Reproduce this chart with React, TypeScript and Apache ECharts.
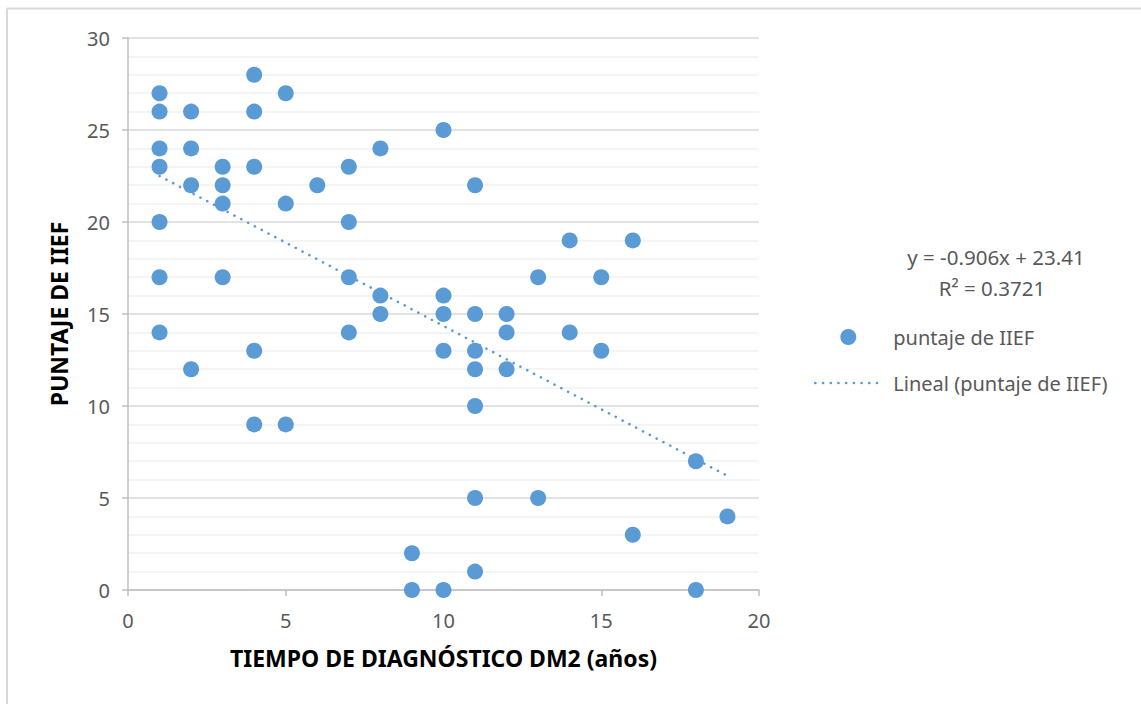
import React, { useEffect, useRef } from "react";
import * as echarts from "echarts";

const seriesName = "puntaje de IIEF";
const trendName = "Lineal (puntaje de IIEF)";
const xTitle = "TIEMPO DE DIAGNÓSTICO DM2 (años)";
const yTitle = "PUNTAJE DE IIEF";
const equationLines = ["y = -0.906x + 23.41", "R² = 0.3721"];

const xValues = [
  1, 1, 1, 1, 1, 1, 1,
  2, 2, 2, 2,
  3, 3, 3, 3,
  4, 4, 4, 4, 4,
  5, 5, 5,
  6,
  7, 7, 7, 7,
  8, 8, 8,
  9, 9,
  10, 10, 10, 10, 10,
  11, 11, 11, 11, 11, 11, 11,
  12, 12, 12,
  13, 13,
  14, 14,
  15, 15,
  16, 16,
  18, 18,
  19,
];
const yValues = [
  27, 26, 24, 23, 20, 17, 14,
  26, 24, 22, 12,
  23, 22, 21, 17,
  28, 26, 23, 13, 9,
  27, 21, 9,
  22,
  23, 20, 17, 14,
  24, 16, 15,
  2, 0,
  25, 16, 15, 13, 0,
  22, 15, 13, 12, 10, 5, 1,
  15, 14, 12,
  17, 5,
  19, 14,
  17, 13,
  19, 3,
  7, 0,
  4,
];
const trendX = [1, 19];
const trendY = [22.5, 6.2];

const FONT = "'Noto Sans', 'Liberation Sans', sans-serif";

export default function App() {
  const ref = useRef<HTMLDivElement>(null);
  useEffect(() => {
    if (!ref.current) return;
    const chart = echarts.init(ref.current, undefined, { renderer: "svg" });
    const points = xValues.map((x, i) => [x, yValues[i]]);
    const trend = trendX.map((x, i) => [x, trendY[i]]);
    const blue = "#5b9bd5";
    const dotted = { color: blue, width: 2.6, type: [0.1, 7.6], cap: "round" };
    chart.setOption({
      animation: false,
      backgroundColor: "#ffffff",
      textStyle: { fontFamily: FONT },
      grid: { left: 128, top: 38, right: 382, bottom: 114, containLabel: false },
      xAxis: {
        type: "value",
        min: 0,
        max: 20,
        interval: 5,
        name: xTitle,
        nameLocation: "middle",
        nameGap: 56,
        nameTextStyle: { fontSize: 23, fontWeight: "bold", color: "#000", fontFamily: FONT },
        axisLine: { show: true, lineStyle: { color: "#bfbfbf", width: 1.5 } },
        axisTick: { show: true, length: 6, lineStyle: { color: "#bfbfbf", width: 1.5 } },
        axisLabel: { fontSize: 20, color: "#595959", margin: 20, fontFamily: FONT },
        splitLine: { show: false },
      },
      yAxis: {
        type: "value",
        min: 0,
        max: 30,
        interval: 5,
        name: yTitle,
        nameLocation: "middle",
        nameGap: 58,
        nameTextStyle: { fontSize: 23, fontWeight: "bold", color: "#000", fontFamily: FONT },
        axisLine: { show: true, lineStyle: { color: "#bfbfbf", width: 1.5 } },
        axisTick: { show: true, length: 6, lineStyle: { color: "#bfbfbf", width: 1.5 } },
        axisLabel: { fontSize: 20, color: "#595959", margin: 18, fontFamily: FONT },
        splitLine: { show: true, lineStyle: { color: "#d9d9d9", width: 1.5 } },
        minorTick: { show: false, splitNumber: 5 },
        minorSplitLine: { show: true, lineStyle: { color: "#f0f0f0", width: 1.5 } },
      },
      legend: {
        orient: "vertical",
        left: 814,
        top: 327,
        padding: 0,
        itemWidth: 66,
        itemHeight: 16,
        itemGap: 26,
        textStyle: {
          fontSize: 20,
          lineHeight: 20,
          color: "#595959",
          fontFamily: FONT,
          padding: [0, 0, 0, 7],
        },
        data: [
          { name: seriesName, icon: "circle" },
          {
            name: trendName,
            itemStyle: { color: "rgba(0,0,0,0)", borderWidth: 0, opacity: 0 },
            lineStyle: dotted,
          },
        ],
      },
      graphic: [
        {
          type: "line",
          shape: { x1: 7, y1: 8.5, x2: 1141, y2: 8.5 },
          style: { stroke: "#d9d9d9", lineWidth: 2 },
          silent: true,
        },
        {
          type: "line",
          shape: { x1: 7, y1: 8.5, x2: 7, y2: 704 },
          style: { stroke: "#d9d9d9", lineWidth: 2 },
          silent: true,
        },
        {
          type: "text",
          x: 996,
          y: 257,
          style: {
            text: equationLines[0],
            fontSize: 20.5,
            fill: "#595959",
            fontFamily: FONT,
            textAlign: "center",
            textVerticalAlign: "middle",
          },
        },
        {
          type: "text",
          x: 992,
          y: 288,
          style: {
            text: equationLines[1],
            fontSize: 20.5,
            fill: "#595959",
            fontFamily: FONT,
            textAlign: "center",
            textVerticalAlign: "middle",
          },
        },
      ],
      series: [
        {
          name: seriesName,
          type: "scatter",
          data: points,
          symbol: "circle",
          symbolSize: 16,
          itemStyle: { color: blue, opacity: 1 },
          z: 3,
        },
        {
          name: trendName,
          type: "line",
          data: trend,
          symbol: "none",
          showSymbol: false,
          lineStyle: dotted,
          itemStyle: { color: blue },
          z: 2,
        },
      ],
    });
    return () => chart.dispose();
  }, []);
  return (
    <div
      ref={ref}
      style={{ position: "fixed", left: 0, top: 0, width: 1141, height: 704 }}
    />
  );
}
